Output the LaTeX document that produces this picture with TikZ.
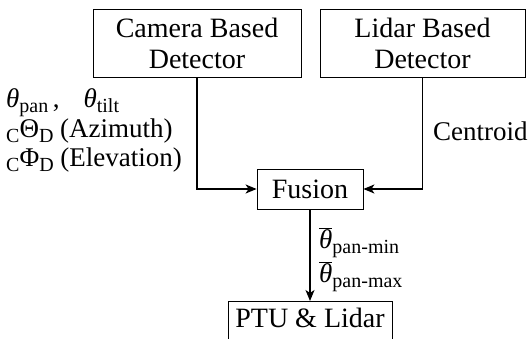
\documentclass[tikz,border=0pt]{standalone}
\usepackage{fontspec}
\setmainfont{Liberation Serif}
\usetikzlibrary{arrows.meta}
\newcommand\lowsub[1]{\raisebox{-5pt}{\fontsize{20}{20}\selectfont #1}}
\newcommand\ithe{{\itshape θ}}
\newcommand\bthe{$\overline{\hbox{\itshape θ}}$}
\begin{document}
\begin{tikzpicture}[x=1pt,y=-1pt,
  box/.style={draw,line width=0.8pt,inner sep=0pt,align=center,font=\fontsize{28}{31}\selectfont},
  conn/.style={line width=1.4pt,-{Stealth[length=11pt,width=9pt,inset=3pt]}},
  lbl/.style={inner sep=0pt,align=left,font=\fontsize{27}{28}\selectfont}]
\useasboundingbox (0,0) rectangle (529,339);
\node[box,minimum width=208,minimum height=68] (cam) at (197,43) {Camera Based\\Detector};
\node[box,minimum width=205,minimum height=68] (lid) at (422.5,43) {Lidar Based\\Detector};
\node[box,minimum width=106,minimum height=40] (fus) at (310,189) {Fusion};
\node[box,minimum width=164,minimum height=40,anchor=north] (ptu) at (310,301) {PTU \& Lidar\strut};
\draw[conn] (cam.south) |- (fus.west);
\draw[conn] (lid.south) |- (fus.east);
\draw[conn] (fus.south) -- (ptu.north);
\node[lbl,anchor=west] (left) at (6,130) {\ithe\lowsub{pan}\,,\hspace{24pt}\ithe\lowsub{tilt}\\[2pt]\lowsub{C}Θ\lowsub{D}\ (Azimuth)\\[1pt]\lowsub{C}Φ\lowsub{D}\ (Elevation)};
\node[lbl,anchor=west] (cen) at (433,131) {Centroid};
\node[lbl,anchor=west] (lim) at (319,260) {\bthe\lowsub{pan-min}\\[3pt]\bthe\lowsub{pan-max}};
\end{tikzpicture}
\end{document}
